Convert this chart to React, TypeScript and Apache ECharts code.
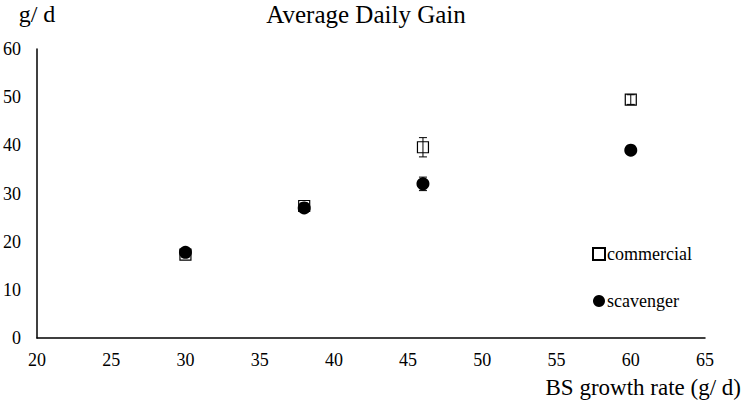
import React, { useEffect, useRef } from "react";
import * as echarts from "echarts";

const xValues = [30, 38, 46, 60];
const commercial = [17.3, 27.4, 39.6, 49.5];
const commercialErr = [0.6, 0.6, 2.0, 1.0];
const scavenger = [17.8, 27.0, 32.0, 39.0];
const scavengerErr = [0.8, 0.6, 1.4, 0.5];

const FONT = "'Liberation Serif', 'Times New Roman', serif";

export default function App() {
  const ref = useRef<HTMLDivElement>(null);
  useEffect(() => {
    if (!ref.current) return;
    const chart = echarts.init(ref.current, undefined, { renderer: "svg" });
    const errData = (vals: number[], errs: number[]) =>
      xValues.map((x, i) => [x, vals[i] - errs[i], vals[i] + errs[i]]);
    const errSeries = (name: string, vals: number[], errs: number[], color: string) => ({
      type: "custom",
      name: name + "-err",
      data: errData(vals, errs),
      encode: { x: 0, y: [1, 2] },
      z: 3,
      silent: true,
      renderItem: (params: any, api: any) => {
        const x = api.value(0);
        const lo = api.coord([x, api.value(1)]);
        const hi = api.coord([x, api.value(2)]);
        const w = 4;
        const style = { stroke: color, lineWidth: 1 };
        return {
          type: "group",
          children: [
            { type: "line", shape: { x1: lo[0], y1: lo[1], x2: hi[0], y2: hi[1] }, style },
            { type: "line", shape: { x1: lo[0] - w, y1: lo[1], x2: lo[0] + w, y2: lo[1] }, style },
            { type: "line", shape: { x1: hi[0] - w, y1: hi[1], x2: hi[0] + w, y2: hi[1] }, style },
          ],
        };
      },
    });
    chart.setOption({
      animation: false,
      textStyle: { fontFamily: FONT },
      title: {
        text: "Average Daily Gain",
        left: 361,
        textAlign: "center",
        top: -3,
        textStyle: { fontFamily: FONT, fontSize: 25, fontWeight: "normal", color: "#000" },
      },
      grid: { left: 35, right: 48, top: 49, bottom: 74 },
      legend: {
        orient: "vertical",
        left: 587,
        top: 240,
        itemGap: 29,
        itemWidth: 12,
        itemHeight: 12,
        data: ["commercial", "scavenger"],
        textStyle: { fontFamily: FONT, fontSize: 18, color: "#000", padding: [0, 0, 0, -3] },
      },
      xAxis: {
        type: "value",
        min: 20,
        max: 65,
        interval: 5,
        name: "BS growth rate (g/ d)",
        nameLocation: "end",
        nameGap: 0,
        nameTextStyle: {
          fontFamily: FONT,
          fontSize: 23,
          color: "#000",
          align: "right",
          verticalAlign: "top",
          padding: [38, -36, 0, 0],
        },
        axisLine: { lineStyle: { color: "#000", width: 1.5 } },
        axisTick: { show: false },
        splitLine: { show: false },
        axisLabel: { fontFamily: FONT, fontSize: 18, color: "#000", margin: 13 },
      },
      yAxis: {
        type: "value",
        min: 0,
        max: 60,
        interval: 10,
        name: "g/ d",
        nameLocation: "end",
        nameGap: 23,
        nameTextStyle: { fontFamily: FONT, fontSize: 24, color: "#000", align: "center" },
        axisLine: { show: true, lineStyle: { color: "#000", width: 1.5 } },
        axisTick: { show: false },
        splitLine: { show: false },
        axisLabel: { fontFamily: FONT, fontSize: 18, color: "#000", margin: 16 },
      },
      series: [
        {
          type: "scatter",
          name: "commercial",
          data: xValues.map((x, i) => [x, commercial[i]]),
          symbol: "rect",
          symbolSize: 11,
          itemStyle: { color: "#fff", borderColor: "#000", borderWidth: 1.2, opacity: 1 },
          z: 2,
        },
        {
          type: "scatter",
          name: "scavenger",
          data: xValues.map((x, i) => [x, scavenger[i]]),
          symbol: "circle",
          symbolSize: 13,
          itemStyle: { color: "#000", opacity: 1 },
          z: 4,
        },
        errSeries("commercial", commercial, commercialErr, "#000"),
        errSeries("scavenger", scavenger, scavengerErr, "#000"),
      ],
    });
    return () => chart.dispose();
  }, []);
  return <div ref={ref} style={{ width: 753, height: 412, position: "absolute", left: 0, top: 0 }} />;
}
